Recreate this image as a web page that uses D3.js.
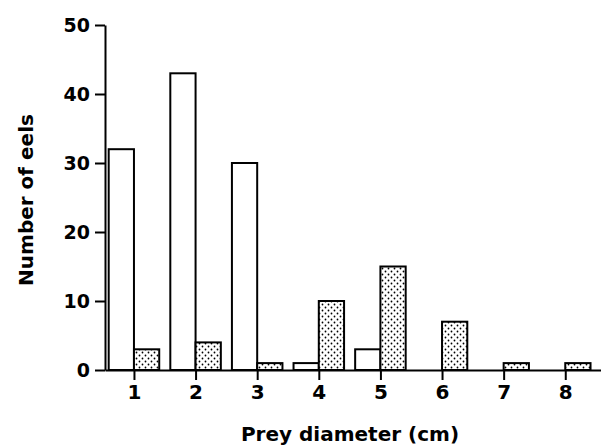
<!DOCTYPE html>
<html>
<head>
<meta charset="utf-8">
<script src="https://cdn.jsdelivr.net/npm/d3@7"></script>
<style>
  body { margin: 0; background: #fff; }
  svg text { font-family: "DejaVu Sans", "Liberation Sans", Arial, sans-serif; font-weight: bold; fill: #000; }
</style>
</head>
<body>
<svg id="chart"></svg>
<script>
const diameters = [1, 2, 3, 4, 5, 6, 7, 8];
const openCounts = [32, 43, 30, 1, 3, 0, 0, 0];
const dottedCounts = [3, 4, 1, 10, 15, 7, 1, 1];
const yTicks = [0, 10, 20, 30, 40, 50];

const svgWidth = 601;
const svgHeight = 445;

const svg = d3.select('#chart')
  .attr('width', svgWidth)
  .attr('height', svgHeight);

const xScale = d3.scaleLinear()
  .domain([0.53, 8.58])
  .range([105, 601]);

const yScale = d3.scaleLinear()
  .domain([0, 50])
  .range([370, 25]);

const barW = 0.41;

// stipple fill
const pattern = svg.append('defs').append('pattern')
  .attr('id', 'dots')
  .attr('patternUnits', 'userSpaceOnUse')
  .attr('width', 6)
  .attr('height', 6);
pattern.append('rect').attr('width', 6).attr('height', 6).attr('fill', '#fff');
pattern.append('circle').attr('cx', 1.5).attr('cy', 1.5).attr('r', 0.9).attr('fill', '#000');
pattern.append('circle').attr('cx', 4.5).attr('cy', 4.5).attr('r', 0.9).attr('fill', '#000');

const openData = diameters.map((d, i) => ({ x: d, v: openCounts[i] })).filter(d => d.v > 0);
const dotData = diameters.map((d, i) => ({ x: d, v: dottedCounts[i] })).filter(d => d.v > 0);

svg.selectAll('.open')
  .data(openData)
  .enter().append('rect')
  .attr('class', 'open')
  .attr('x', d => xScale(d.x - barW))
  .attr('width', d => xScale(d.x) - xScale(d.x - barW))
  .attr('y', d => yScale(d.v))
  .attr('height', d => yScale(0) - yScale(d.v))
  .attr('fill', '#fff')
  .attr('stroke', '#000')
  .attr('stroke-width', 2);

svg.selectAll('.dotted')
  .data(dotData)
  .enter().append('rect')
  .attr('class', 'dotted')
  .attr('x', d => xScale(d.x))
  .attr('width', d => xScale(d.x + barW) - xScale(d.x))
  .attr('y', d => yScale(d.v))
  .attr('height', d => yScale(0) - yScale(d.v))
  .attr('fill', 'url(#dots)')
  .attr('stroke', '#000')
  .attr('stroke-width', 2);

const xAxis = d3.axisBottom(xScale)
  .tickValues(diameters)
  .tickSize(10)
  .tickSizeOuter(0)
  .tickPadding(5)
  .tickFormat(d3.format('d'));

const yAxis = d3.axisLeft(yScale)
  .tickValues(yTicks)
  .tickSize(10)
  .tickSizeOuter(0)
  .tickPadding(5);

svg.append('g')
  .attr('id', 'x-axis')
  .attr('transform', `translate(0, ${yScale(0)})`)
  .call(xAxis)
  .call(g => g.selectAll('path, line').attr('stroke-width', 2))
  .call(g => g.selectAll('text').style('font-size', '20px'));

svg.append('g')
  .attr('id', 'y-axis')
  .attr('transform', `translate(${xScale.range()[0]}, 0)`)
  .call(yAxis)
  .call(g => g.selectAll('path, line').attr('stroke-width', 2))
  .call(g => g.selectAll('text').style('font-size', '19px'));

svg.append('text')
  .attr('x', 350)
  .attr('y', 441)
  .attr('text-anchor', 'middle')
  .style('font-size', '20px')
  .text('Prey diameter (cm)');

svg.append('text')
  .attr('transform', 'translate(33, 200) rotate(-90)')
  .attr('text-anchor', 'middle')
  .style('font-size', '20px')
  .text('Number of eels');
</script>
</body>
</html>
